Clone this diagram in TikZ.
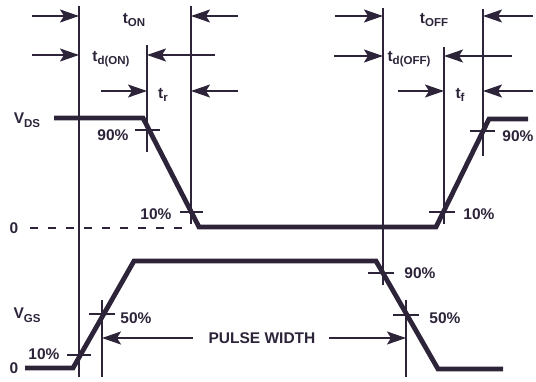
\documentclass[tikz,border=0pt]{standalone}
\usepackage{fontspec}
\setmainfont{Liberation Sans}
\usetikzlibrary{arrows.meta,positioning}
\definecolor{ink}{RGB}{45,36,58}
\newcommand{\lowsub}[1]{\raisebox{-0.45ex}{\fontsize{11.5}{12}\selectfont #1}}

\begin{document}
\begin{tikzpicture}[x=1pt, y=-1pt,
  guide/.style={draw=ink, line width=1.6pt},
  wave/.style={draw=ink, line width=4.8pt, line join=miter},
  arr/.style={guide, -{Stealth[length=19pt, width=13pt, inset=4pt]}},
  lbl/.style={font=\fontsize{15.5}{16}\selectfont\bfseries, text=ink, inner sep=0pt},
  every node/.style={outer sep=0pt}
]
  \useasboundingbox (0,0) rectangle (536,381);

  % Vertical timing lines
  \coordinate (l1t) at (79,6);   \coordinate (l1b) at (79,377);
  \coordinate (l2t) at (147,45); \coordinate (l2b) at (147,152);
  \coordinate (l3t) at (191,6);  \coordinate (l3b) at (191,224);
  \coordinate (l4t) at (383,8);  \coordinate (l4b) at (383,285);
  \coordinate (l5t) at (444,47); \coordinate (l5b) at (444,224);
  \coordinate (l6t) at (483,9);  \coordinate (l6b) at (483,156);
  \coordinate (l7t) at (102,300); \coordinate (l7b) at (102,377);
  \coordinate (l8t) at (406,300); \coordinate (l8b) at (406,377);
  \foreach \n in {1,...,8}
    \draw[guide] (l\n t) -- (l\n b);

  % Arrow tails
  \coordinate (a1) at (32,16);  \coordinate (a2) at (238,16);
  \coordinate (a3) at (335,16); \coordinate (a4) at (533,16);
  \coordinate (b1) at (32,55);  \coordinate (b2) at (215,55);
  \coordinate (b3) at (334,56); \coordinate (b4) at (512,56);
  \coordinate (c1) at (101,91); \coordinate (c2) at (238,91);
  \coordinate (c3) at (398,91); \coordinate (c4) at (533,91);
  \coordinate (pw1) at (193,338); \coordinate (pw2) at (329,338);

  % Arrows
  \draw[arr] (a1) -- (a1 -| l1t);
  \draw[arr] (a2) -- (a2 -| l3t);
  \draw[arr] (a3) -- (a3 -| l4t);
  \draw[arr] (a4) -- (a4 -| l6t);
  \draw[arr] (b1) -- (b1 -| l1t);
  \draw[arr] (b2) -- (b2 -| l2t);
  \draw[arr] (b3) -- (b3 -| l4t);
  \draw[arr] (b4) -- (b4 -| l5t);
  \draw[arr] (c1) -- (c1 -| l2t);
  \draw[arr] (c2) -- (c2 -| l3t);
  \draw[arr] (c3) -- (c3 -| l5t);
  \draw[arr] (c4) -- (c4 -| l6t);
  \draw[arr] (pw1) -- (pw1 -| l7t);
  \draw[arr] (pw2) -- (pw2 -| l8t);

  % V_DS waveform
  \coordinate (ds0) at (54,118);  \coordinate (ds1) at (143,118);
  \coordinate (ds2) at (199,227); \coordinate (ds3) at (436,227);
  \coordinate (ds4) at (489,119); \coordinate (ds5) at (528,119);
  \draw[wave] (ds0) -- (ds1) -- (ds2) -- (ds3) -- (ds4) -- (ds5);
  \draw[guide, dash pattern=on 8pt off 10pt] (30,228) -- (191,228);

  % V_GS waveform
  \coordinate (gs0) at (25,368);  \coordinate (gs1) at (73,368);
  \coordinate (gs2) at (134,261); \coordinate (gs3) at (376,261);
  \coordinate (gs4) at (438,369); \coordinate (gs5) at (503,369);
  \draw[wave] (gs0) -- (gs1) -- (gs2) -- (gs3) -- (gs4) -- (gs5);

  % Level ticks
  \draw[guide] (135,130) -- (160,130);
  \draw[guide] (180,212) -- (203,212);
  \draw[guide] (429,212) -- (455,212);
  \draw[guide] (470,131) -- (495,131);
  \draw[guide] (67,355) -- (91,355);
  \draw[guide] (89,314) -- (115,314);
  \draw[guide] (368,273) -- (394,273);
  \draw[guide] (393,315) -- (419,315);

  % Labels
  \node[lbl] (ton)   at (134,20)  {t\lowsub{ON}};
  \node[lbl] (tdon)  at (111,59)  {t\lowsub{d(ON)}};
  \node[lbl] (tr)    at (163,95)  {t\lowsub{r}};
  \node[lbl] (toff)  at (434,20)  {t\lowsub{OFF}};
  \node[lbl] (tdoff) at (409,59)  {t\lowsub{d(OFF)}};
  \node[lbl] (tf)    at (460,95)  {t\lowsub{f}};
  \node[lbl] (vds)   at (27,120)  {V\lowsub{DS}};
  \node[lbl] (vgs)   at (27,315)  {V\lowsub{GS}};
  \node[lbl] (zds)   at (14,228)  {0};
  \node[lbl] (zgs)   at (14,368)  {0};
  \node[lbl] (p90a)  at (113,135) {90\%};
  \node[lbl] (p90b)  at (518,136) {90\%};
  \node[lbl] (p10a)  at (156,214) {10\%};
  \node[lbl] (p10b)  at (479,214) {10\%};
  \node[lbl] (p10c)  at (44,354)  {10\%};
  \node[lbl] (p50a)  at (136,318) {50\%};
  \node[lbl] (p90c)  at (420,273) {90\%};
  \node[lbl] (p50b)  at (445,318) {50\%};
  \node[lbl] (pw)    at (262,338) {PULSE WIDTH};
\end{tikzpicture}
\end{document}
